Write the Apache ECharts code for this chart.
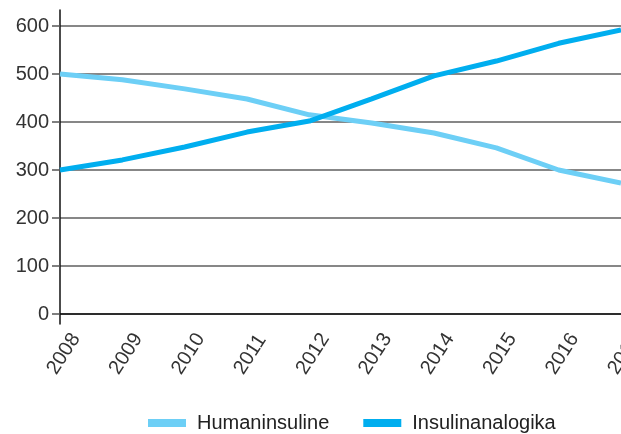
<!DOCTYPE html>
<html>
<head>
<meta charset="utf-8">
<script src="https://cdn.jsdelivr.net/npm/echarts@6/dist/echarts.min.js"></script>
<style>
  html, body { margin: 0; padding: 0; background: #fff; }
  #chart { width: 621px; height: 434px; }
</style>
</head>
<body>
<div id="chart"></div>
<script>
// Years on the x axis
const years = ['2008', '2009', '2010', '2011', '2012', '2013', '2014', '2015', '2016', '2017'];
// Yearly values per insulin type
const humaninsuline = [500, 488, 469, 448, 415, 398, 377, 346, 300, 273];
const insulinanalogika = [300, 321, 348, 379, 402, 448, 496, 527, 564, 592];
// Value axis ticks
const yTicks = [0, 100, 200, 300, 400, 500, 600];

const FONT = '"Liberation Sans", Arial, sans-serif';
const chart = echarts.init(document.getElementById('chart'), null, { renderer: 'canvas' });

chart.setOption({
  animation: false,
  backgroundColor: '#ffffff',
  grid: [
    { left: 60, right: 0, top: 26, bottom: 120, outerBoundsMode: 'none', containLabel: false },
    // taller frame used only for the vertical axis line
    { left: 60, right: 0, top: 10, bottom: 110, outerBoundsMode: 'none', containLabel: false }
  ],
  legend: {
    left: 143,
    top: 408,
    icon: 'rect',
    itemWidth: 38,
    itemHeight: 8,
    itemGap: 34,
    textStyle: { fontFamily: FONT, fontSize: 20, color: '#222', padding: [0, 0, 0, 6] },
    data: ['Humaninsuline', 'Insulinanalogika']
  },
  xAxis: [
    {
      type: 'category',
      gridIndex: 0,
      data: years,
      boundaryGap: false,
      axisLine: { show: true, lineStyle: { color: '#111', width: 1.5 } },
      axisTick: { show: false },
      axisLabel: {
        rotate: 57,
        align: 'left',
        verticalAlign: 'bottom',
        margin: 64,
        fontFamily: FONT,
        fontSize: 20,
        color: '#333'
      },
      splitLine: { show: false }
    },
    {
      type: 'category',
      gridIndex: 1,
      data: years,
      show: false
    }
  ],
  yAxis: [
    {
      type: 'value',
      gridIndex: 0,
      min: yTicks[0],
      max: yTicks[yTicks.length - 1],
      interval: 100,
      axisLine: { show: false },
      axisTick: { show: true, length: 8, lineStyle: { color: '#555', width: 1.5 } },
      axisLabel: { margin: 11, fontFamily: FONT, fontSize: 20, color: '#333' },
      splitLine: { show: true, lineStyle: { color: '#5f5f5f', width: 1.5 } }
    },
    {
      type: 'value',
      gridIndex: 1,
      min: 0,
      max: 1,
      axisLine: { show: true, lineStyle: { color: '#111', width: 1.5 } },
      axisTick: { show: false },
      axisLabel: { show: false },
      splitLine: { show: false }
    }
  ],
  series: [
    {
      name: 'Humaninsuline',
      type: 'line',
      data: humaninsuline,
      showSymbol: false,
      symbol: 'none',
      lineStyle: { color: '#6dcff6', width: 5 },
      itemStyle: { color: '#6dcff6' },
      z: 3
    },
    {
      name: 'Insulinanalogika',
      type: 'line',
      data: insulinanalogika,
      showSymbol: false,
      symbol: 'none',
      lineStyle: { color: '#00aeef', width: 5 },
      itemStyle: { color: '#00aeef' },
      z: 4
    }
  ]
});
</script>
</body>
</html>
